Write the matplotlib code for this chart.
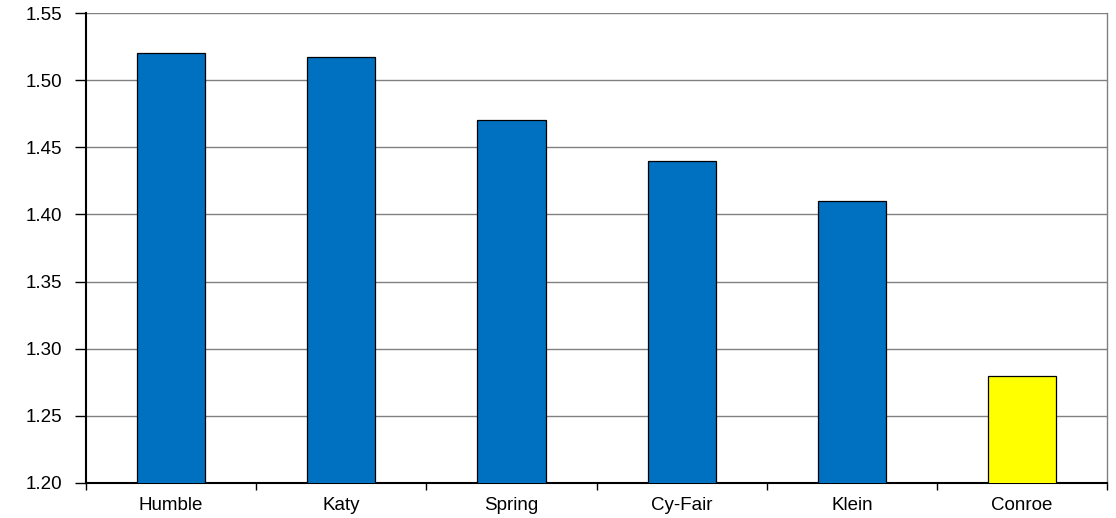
import matplotlib
matplotlib.use('Agg')
import matplotlib.pyplot as plt
import numpy as np

# district values
districts = ['Humble', 'Katy', 'Spring', 'Cy-Fair', 'Klein', 'Conroe']
values = [1.52, 1.517, 1.47, 1.44, 1.41, 1.28]
colors = ['#0070C0'] * 5 + ['#FFFF00']
y_ticks = [1.20, 1.25, 1.30, 1.35, 1.40, 1.45, 1.50, 1.55]

plt.rcParams['font.family'] = ['Liberation Sans', 'DejaVu Sans']

fig = plt.figure(figsize=(11.16, 5.18), dpi=100)
ax = fig.add_axes([0.0771, 0.0676, 0.9149, 0.9073])

x = np.arange(len(districts))
ax.bar(x, values, width=0.4, color=colors, edgecolor='black', linewidth=0.9, zorder=3)

ax.set_ylim(1.20, 1.55)
ax.set_xlim(-0.5, len(districts) - 0.5)
ax.set_yticks(y_ticks)
ax.set_yticklabels([f'{v:.2f}' for v in y_ticks], fontsize=13.5)
ax.yaxis.grid(True, color='#808080', linewidth=1.0, zorder=0)

# category labels centered, tick marks between categories
ax.set_xticks(x)
ax.set_xticklabels(districts, fontsize=13.5)
ax.tick_params(axis='x', which='major', length=0, pad=10)
ax.set_xticks(np.arange(len(districts) + 1) - 0.5, minor=True)
ax.tick_params(axis='x', which='minor', length=5, width=1, color='black', direction='out')
ax.tick_params(axis='y', length=8, width=1, direction='out', pad=9)

ax.spines['left'].set_linewidth(1.5)
ax.spines['bottom'].set_linewidth(1.5)
ax.spines['top'].set_visible(False)
ax.spines['right'].set_color('#808080')
ax.spines['right'].set_linewidth(1.0)

fig.savefig('out.png', dpi=100)
